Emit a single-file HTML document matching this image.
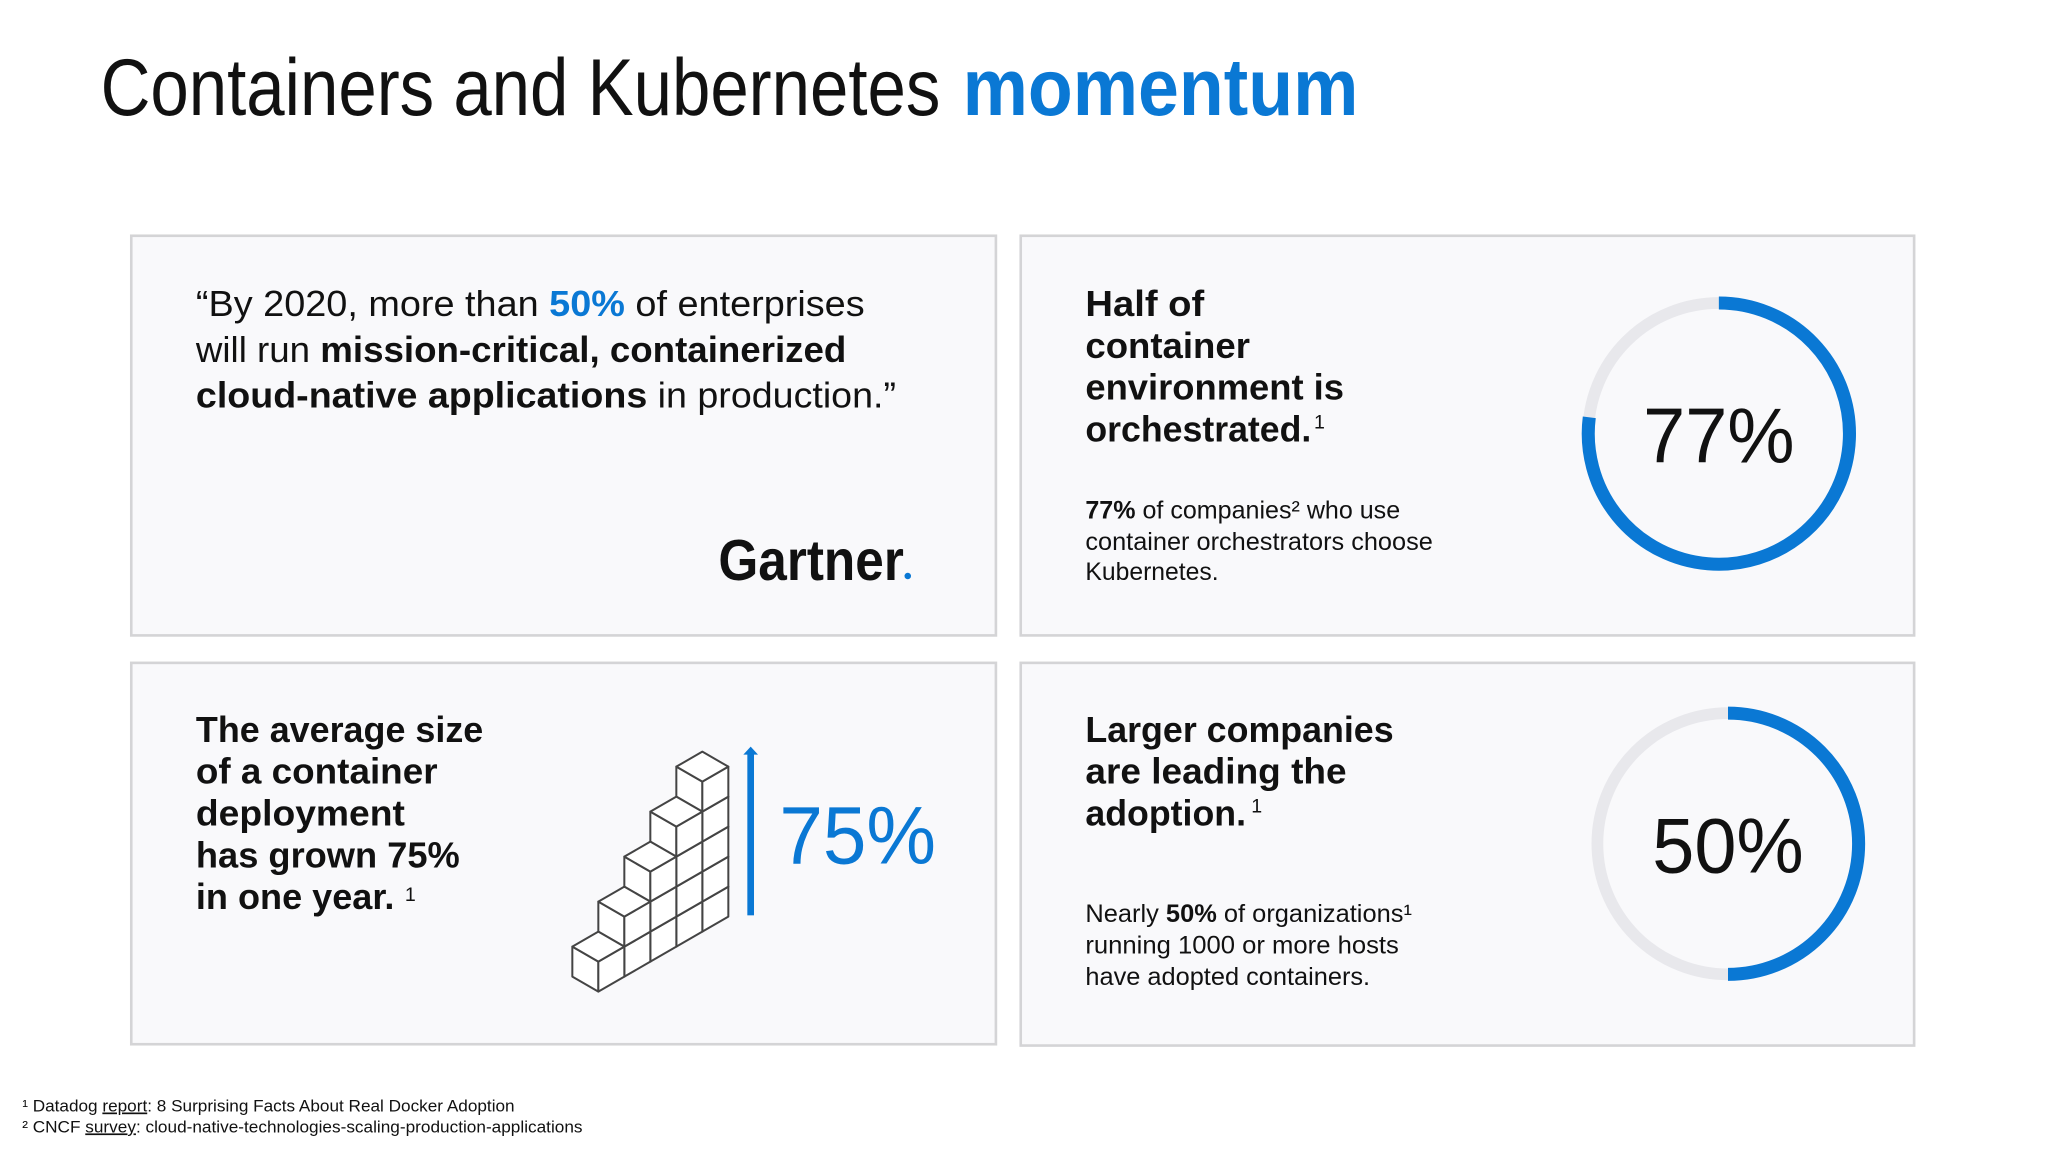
<!DOCTYPE html>
<html><head><meta charset="utf-8"><style>
html,body{margin:0;padding:0;background:#fff}
svg{display:block;font-family:"Liberation Sans",sans-serif}
</style></head><body>
<svg id="s" width="2048" height="1152" viewBox="0 0 1568 882">
<rect width="1568" height="882" fill="#fff"/>
<g>
<text x="77" y="88" font-size="62" fill="#111" textLength="643" lengthAdjust="spacingAndGlyphs">Containers and Kubernetes</text>
<text x="737" y="88" font-size="62" font-weight="bold" fill="#0a78d4" textLength="303" lengthAdjust="spacingAndGlyphs">momentum</text>
</g>
<rect x="100.5" y="180.5" width="662" height="306" fill="#f9f9fb" stroke="#d4d4d6" stroke-width="2"/>
<rect x="781.5" y="180.5" width="684" height="306" fill="#f9f9fb" stroke="#d4d4d6" stroke-width="2"/>
<rect x="100.5" y="507.5" width="662" height="292" fill="#f9f9fb" stroke="#d4d4d6" stroke-width="2"/>
<rect x="781.5" y="507.5" width="684" height="293" fill="#f9f9fb" stroke="#d4d4d6" stroke-width="2"/>

<g font-size="28" fill="#111">
<text x="150" y="242" textLength="512" lengthAdjust="spacingAndGlyphs">“By 2020, more than <tspan fill="#0a78d4" font-weight="bold">50%</tspan> of enterprises</text>
<text x="150" y="277" textLength="498" lengthAdjust="spacingAndGlyphs">will run <tspan font-weight="bold">mission-critical, containerized</tspan></text>
<text x="150" y="312" textLength="536" lengthAdjust="spacingAndGlyphs"><tspan font-weight="bold">cloud-native applications</tspan> in production.”</text>
</g>
<text x="550" y="444" font-size="44" font-weight="bold" fill="#111" textLength="142" lengthAdjust="spacingAndGlyphs">Gartner</text>
<circle cx="695" cy="441" r="2.5" fill="#0a78d4"/>

<g font-size="28" font-weight="bold" fill="#111">
<text x="831" y="242" textLength="91" lengthAdjust="spacingAndGlyphs">Half of</text>
<text x="831" y="274" textLength="126" lengthAdjust="spacingAndGlyphs">container</text>
<text x="831" y="306" textLength="198" lengthAdjust="spacingAndGlyphs">environment is</text>
<text x="831" y="338" textLength="173" lengthAdjust="spacingAndGlyphs">orchestrated.</text>
<text x="1006" y="328" font-size="15" font-weight="normal">1</text>
</g>
<g font-size="19" fill="#111">
<text x="831" y="397" textLength="241" lengthAdjust="spacingAndGlyphs"><tspan font-weight="bold">77%</tspan> of companies² who use</text>
<text x="831" y="421" textLength="266" lengthAdjust="spacingAndGlyphs">container orchestrators choose</text>
<text x="831" y="444" textLength="102" lengthAdjust="spacingAndGlyphs">Kubernetes.</text>
</g>

<g font-size="28" font-weight="bold" fill="#111">
<text x="150" y="568" textLength="220" lengthAdjust="spacingAndGlyphs">The average size</text>
<text x="150" y="600" textLength="185" lengthAdjust="spacingAndGlyphs">of a container</text>
<text x="150" y="632" textLength="160" lengthAdjust="spacingAndGlyphs">deployment</text>
<text x="150" y="664" textLength="202" lengthAdjust="spacingAndGlyphs">has grown 75%</text>
<text x="150" y="696" textLength="152" lengthAdjust="spacingAndGlyphs">in one year.</text>
<text x="310" y="690" font-size="15" font-weight="normal">1</text>
</g>

<g font-size="28" font-weight="bold" fill="#111">
<text x="831" y="568" textLength="236" lengthAdjust="spacingAndGlyphs">Larger companies</text>
<text x="831" y="600" textLength="200" lengthAdjust="spacingAndGlyphs">are leading the</text>
<text x="831" y="632" textLength="123" lengthAdjust="spacingAndGlyphs">adoption.</text>
<text x="958" y="622" font-size="15" font-weight="normal">1</text>
</g>
<g font-size="19" fill="#111">
<text x="831" y="706" textLength="250" lengthAdjust="spacingAndGlyphs">Nearly <tspan font-weight="bold">50%</tspan> of organizations¹</text>
<text x="831" y="730" textLength="240" lengthAdjust="spacingAndGlyphs">running 1000 or more hosts</text>
<text x="831" y="754" textLength="218" lengthAdjust="spacingAndGlyphs">have adopted containers.</text>
</g>

<g font-size="13" fill="#111">
<text x="17" y="851" textLength="377" lengthAdjust="spacingAndGlyphs">¹ Datadog <tspan text-decoration="underline">report</tspan>: 8 Surprising Facts About Real Docker Adoption</text>
<text x="17" y="867" textLength="429" lengthAdjust="spacingAndGlyphs">² CNCF <tspan text-decoration="underline">survey</tspan>: cloud-native-technologies-scaling-production-applications</text>
</g>

<g transform="scale(0.76563) translate(540,720) scale(0.33333)">
<g id="cubes"></g>
<rect x="622" y="100" width="20" height="486" fill="#0a78d4"/>
<polygon points="610,104 654,104 632,80" fill="#0a78d4"/>
<text x="718" y="430" font-size="244" fill="#0a78d4" textLength="470" lengthAdjust="spacingAndGlyphs">75%</text>
</g>
<g id="donuts"></g>
</svg>
<script>
const donutLabels = ["77%", "50%"];
const donutValues = [77, 50];
const donutCenters = [[1316, 332], [1323, 646]];
const stairHeights = [1, 2, 3, 4, 5];

const NS = "http://www.w3.org/2000/svg";
const dg = document.getElementById("donuts");
donutValues.forEach((v, i) => {
  const [cx, cy] = donutCenters[i];
  const r = 100;
  const track = document.createElementNS(NS, "circle");
  
  
  track.setAttribute("cx", cx); track.setAttribute("cy", cy); track.setAttribute("r", r);
  track.setAttribute("fill", "none"); track.setAttribute("stroke", "#e8e8ec"); track.setAttribute("stroke-width", "9");
  dg.appendChild(track);
  const a = v / 100 * 2 * Math.PI;
  const x2 = cx + r * Math.sin(a), y2 = cy - r * Math.cos(a);
  const arc = document.createElementNS(NS, "path");
  
  
  arc.setAttribute("d", `M${cx},${cy - r} A${r},${r} 0 ${v > 50 ? 1 : 0} 1 ${x2},${y2}`);
  arc.setAttribute("fill", "none"); arc.setAttribute("stroke", "#0a78d4"); arc.setAttribute("stroke-width", "10");
  dg.appendChild(arc);
  const t = document.createElementNS(NS, "text");
  
  
  t.setAttribute("x", cx); t.setAttribute("y", cy + 22); t.setAttribute("text-anchor", "middle");
  t.setAttribute("font-size", "60"); t.setAttribute("fill", "#111");
  t.setAttribute("textLength", "116"); t.setAttribute("lengthAdjust", "spacingAndGlyphs");
  t.textContent = donutLabels[i];
  dg.appendChild(t);
});

const cg = document.getElementById("cubes");
const dx = 78, dy = 45, h = 90, fx = 175, fy = 815;
for (let c = stairHeights.length - 1; c >= 0; c--) {
  for (let j = 0; j < stairHeights[c]; j++) {
    const bx = fx + c * dx, by = fy - c * dy - j * h;
    const tx = bx, ty = by - h;
    const faces = [
      `${bx},${by} ${bx-dx},${by-dy} ${tx-dx},${ty-dy} ${tx},${ty}`,
      `${bx},${by} ${bx+dx},${by-dy} ${tx+dx},${ty-dy} ${tx},${ty}`,
      `${tx},${ty} ${tx-dx},${ty-dy} ${tx},${ty-2*dy} ${tx+dx},${ty-dy}`
    ];
    faces.forEach(p => {
      const poly = document.createElementNS(NS, "polygon");
      
      
      poly.setAttribute("points", p);
      poly.setAttribute("fill", "#fff"); poly.setAttribute("stroke", "#444");
      poly.setAttribute("stroke-width", "6"); poly.setAttribute("stroke-linejoin", "round");
      cg.appendChild(poly);
    });
  }
}
</script>
</body></html>
